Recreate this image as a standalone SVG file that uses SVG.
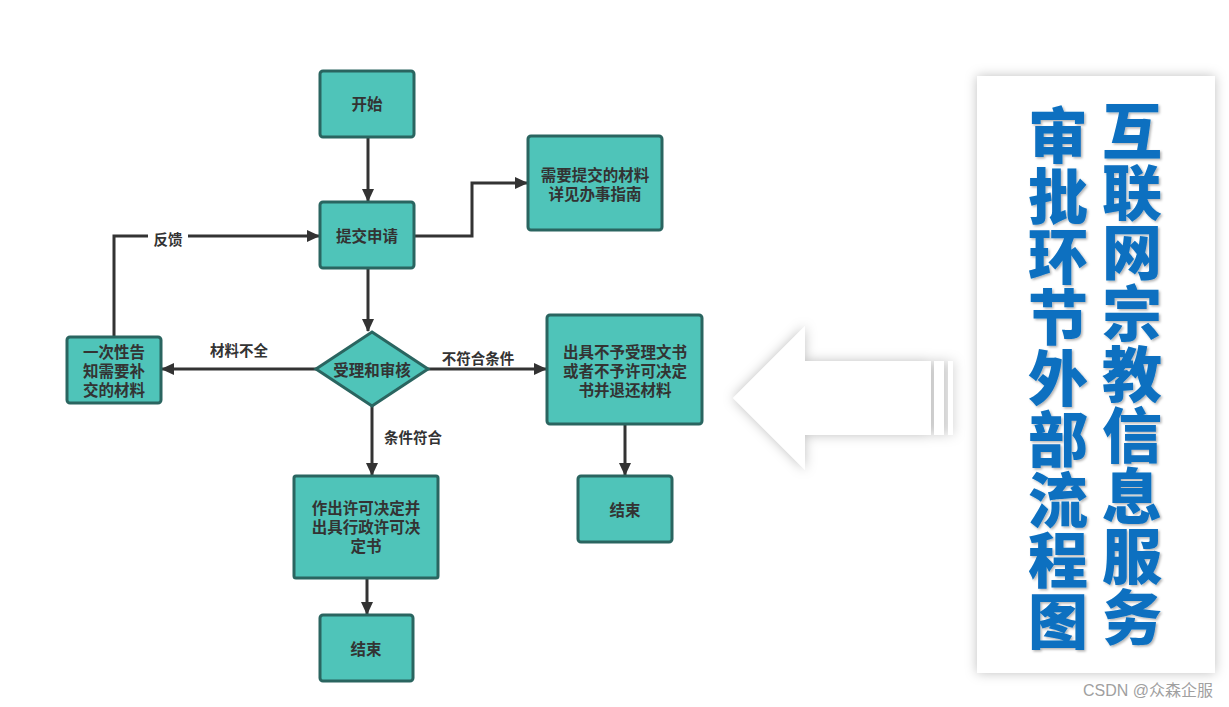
<svg xmlns="http://www.w3.org/2000/svg" width="1229" height="707" viewBox="0 0 1229 707">
<defs>
<style>
.box{fill:#4fc4b9;stroke:#2a6560;stroke-width:3}
.t{font-family:"Liberation Sans","Noto Sans CJK SC",sans-serif;font-weight:bold;font-size:15.5px;fill:#333;text-anchor:middle;dominant-baseline:central}
.lbl{font-family:"Noto Sans CJK SC","Noto Sans",sans-serif;font-weight:bold;font-size:14.5px;fill:#333;text-anchor:middle;dominant-baseline:central}
.ln{fill:none;stroke:#333;stroke-width:3}
.big{font-family:"Noto Sans CJK SC","Noto Sans",sans-serif;font-weight:900;font-size:60px;fill:#0a6fc0;writing-mode:vertical-rl;letter-spacing:0.8px}
</style>
<marker id="ah" markerWidth="13" markerHeight="13" refX="12" refY="6.5" orient="auto" markerUnits="userSpaceOnUse" viewBox="0 0 13 13">
<path d="M0,0.5 L13,6.5 L0,12.5 Z" fill="#333"/>
</marker>
<filter id="sh" x="-20%" y="-20%" width="140%" height="140%">
<feDropShadow dx="0" dy="0" stdDeviation="6" flood-color="#000" flood-opacity="0.25"/>
</filter>
<filter id="tsh" x="-10%" y="-10%" width="120%" height="120%">
<feDropShadow dx="1.5" dy="1.5" stdDeviation="1" flood-color="#000" flood-opacity="0.3"/>
</filter>
</defs>
<rect width="1229" height="707" fill="#fff"/>

<g id="connectors">
<path class="ln" d="M368,137 V201" marker-end="url(#ah)"/>
<path class="ln" d="M414,236 H472 V183 H527" marker-end="url(#ah)"/>
<path class="ln" d="M368,268 V331" marker-end="url(#ah)"/>
<path class="ln" d="M316,369 H162" marker-end="url(#ah)"/>
<path class="ln" d="M428,369 H546" marker-end="url(#ah)"/>
<path class="ln" d="M372,406 V475" marker-end="url(#ah)"/>
<path class="ln" d="M114,337 V236 H319" marker-end="url(#ah)"/>
<path class="ln" d="M625,424 V475" marker-end="url(#ah)"/>
<path class="ln" d="M367,578 V614" marker-end="url(#ah)"/>
<rect x="148" y="228" width="40" height="18" fill="#fff"/>
<text class="lbl" x="168" y="238">反馈</text>
<text class="lbl" x="239" y="349">材料不全</text>
<text class="lbl" x="478" y="357">不符合条件</text>
<text class="lbl" x="413" y="436">条件符合</text>
</g>

<g id="start"><rect class="box" x="320" y="71" width="94" height="66" rx="3"/><text class="t" x="367" y="104">开始</text></g>
<g id="submit"><rect class="box" x="320" y="202" width="94" height="66" rx="3"/><text class="t" x="367" y="236">提交申请</text></g>
<g id="materials"><rect class="box" x="528" y="136" width="134" height="94" rx="3"/><text class="t"><tspan x="595" y="175">需要提交的材料</tspan><tspan x="595" y="194">详见办事指南</tspan></text></g>
<g id="review"><polygon class="box" points="372,332 428,369 372,406 316,369"/><text class="t" x="372" y="370">受理和审核</text></g>
<g id="notify"><rect class="box" x="67" y="337" width="94" height="66" rx="3"/><text class="t"><tspan x="114" y="352">一次性告</tspan><tspan x="114" y="371">知需要补</tspan><tspan x="114" y="390">交的材料</tspan></text></g>
<g id="reject"><rect class="box" x="547" y="315" width="155" height="109" rx="3"/><text class="t"><tspan x="625" y="352">出具不予受理文书</tspan><tspan x="625" y="371">或者不予许可决定</tspan><tspan x="625" y="390">书并退还材料</tspan></text></g>
<g id="end1"><rect class="box" x="578" y="476" width="94" height="66" rx="3"/><text class="t" x="625" y="510">结束</text></g>
<g id="approve"><rect class="box" x="294" y="476" width="144" height="102" rx="2"/><text class="t"><tspan x="366" y="508">作出许可决定并</tspan><tspan x="366" y="527">出具行政许可决</tspan><tspan x="366" y="546">定书</tspan></text></g>
<g id="end2"><rect class="box" x="320" y="615" width="93" height="66" rx="3"/><text class="t" x="366" y="649">结束</text></g>

<g id="bigarrow" filter="url(#sh)">
<polygon points="733,398 805,326 805,361 931,361 931,435 805,435 805,470" fill="#fff"/>
<rect x="934" y="361" width="10" height="74" fill="#fff"/>
<rect x="948" y="361" width="5" height="74" fill="#fff"/>
</g>

<g id="panel">
<rect x="977" y="76" width="238" height="597" fill="#fff" filter="url(#sh)"/>
<text class="big" x="1132" y="101" filter="url(#tsh)">互联网宗教信息服务</text>
<text class="big" x="1058" y="105" filter="url(#tsh)">审批环节外部流程图</text>
</g>

<text x="1213" y="696" font-family="'Liberation Sans','Noto Sans CJK SC',sans-serif" font-size="16" fill="#a0a0a0" text-anchor="end">CSDN @众森企服</text>
</svg>
